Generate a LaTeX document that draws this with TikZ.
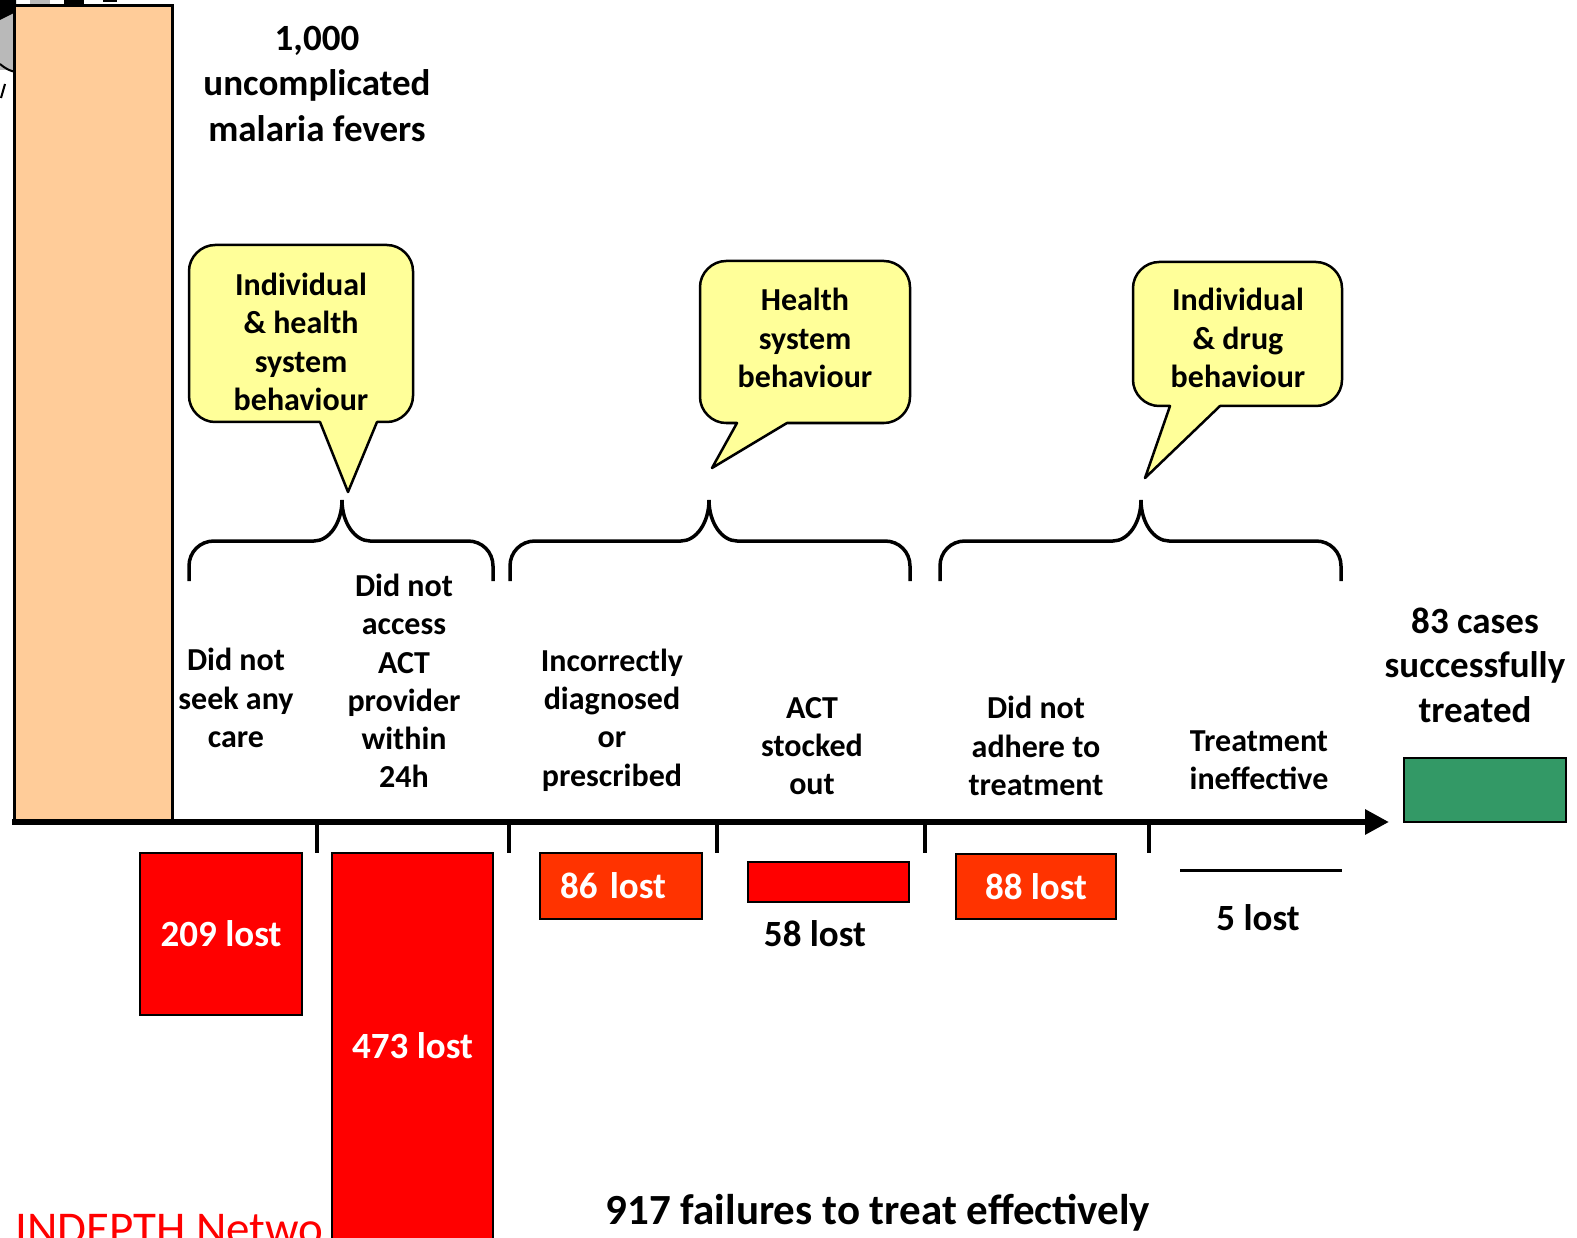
\documentclass[tikz,border=0pt]{standalone}
\usepackage{fontspec}
\setmainfont{Carlito}
\usetikzlibrary{arrows.meta}
\definecolor{fever}{HTML}{FFCC99}
\definecolor{note}{HTML}{FFFF99}
\definecolor{loss}{HTML}{FF0000}
\definecolor{lossb}{HTML}{FF3300}
\definecolor{cured}{HTML}{339966}

\begin{document}
\begin{tikzpicture}[
  x=1pt, y=-1pt,
  lbl/.style={font=\fontsize{32}{38.3}\selectfont\bfseries, align=center, inner sep=0pt},
  big/.style={font=\fontsize{37}{45}\selectfont\bfseries, align=center, inner sep=0pt},
  lossbox/.style={draw=black, line width=2pt, fill=#1, text=white, inner sep=0pt,
                  font=\fontsize{37}{44}\selectfont\bfseries},
  callbox/.style={draw=black, line width=2.5pt, fill=note},
  curly/.style={draw=black, line width=3.5pt},
  axis/.style={line width=6pt, -{Triangle[length=24pt, width=24pt]}},
  tick/.style={line width=4pt},
]
\useasboundingbox (0,0) rectangle (1577,1238);

% curly brace: left x, tip x, right x
\def\curlybr#1#2#3{\draw[curly] (#1,581) -- (#1,566) .. controls (#1,552) and (#1+11,541) .. (#1+25,541)
  -- (#2-28,541) .. controls (#2-13,541) and (#2,523) .. (#2,500)
  .. controls (#2,523) and (#2+13,541) .. (#2+28,541)
  -- (#3-25,541) .. controls (#3-11,541) and (#3,552) .. (#3,566) -- (#3,581);}
% speech bubble: x1, y1, x2, y2, pointer base left, pointer base right, tip x, tip y
\def\bubble#1#2#3#4#5#6#7#8{\draw[callbox, line join=round] ({(#1+#3)/2},#2)
  -- (#3-26,#2) .. controls (#3-12,#2) and (#3,#2+12) .. (#3,#2+26)
  -- (#3,#4-26) .. controls (#3,#4-12) and (#3-12,#4) .. (#3-26,#4)
  -- (#6,#4) -- (#7,#8) -- (#5,#4)
  -- (#1+26,#4) .. controls (#1+12,#4) and (#1,#4-12) .. (#1,#4-26)
  -- (#1,#2+26) .. controls (#1,#2+12) and (#1+12,#2) .. (#1+26,#2) -- cycle;}

% ---------- picture fragment, top left ----------
\fill[gray!55] (0,0) rectangle (16,70);
\draw[line width=2pt] (0,64) .. controls (6,69) and (10,71) .. (16,72);
\fill[black] (0,0) -- (16,0) -- (16,12) -- (0,20) -- cycle;
\fill[gray!55] (30,0) rectangle (50,6);
\fill[black] (64,0) rectangle (84,6);
\fill[black] (103,0) rectangle (117,2);
\draw[line width=2pt] (1,98) -- (5,84);

% ---------- 1,000 fevers ----------
\node[draw=black, line width=3pt, fill=fever, minimum width=158pt, minimum height=814pt,
      inner sep=0pt] (fevers) at (93,413) {};
\node[big, font=\fontsize{37}{45.5}\selectfont\bfseries] (title) at (317,84)
  {1,000\\uncomplicated\\malaria fevers};

% ---------- Speech bubbles ----------
\bubble{189}{245}{413}{422}{320}{377}{348}{492}
\bubble{700}{261}{910}{423}{737}{787}{712}{468}
\bubble{1133}{262}{1342}{406}{1170}{1220}{1145}{478}
\node[lbl] (why1) at (301,342) {Individual\\\& health\\system\\behaviour};
\node[lbl] (why2) at (805,338) {Health\\system\\behaviour};
\node[lbl] (why3) at (1238,338) {Individual\\\& drug\\behaviour};

% ---------- Braces ----------
\curlybr{189}{342}{493}
\curlybr{510}{709}{910}
\curlybr{940}{1141}{1341}

% ---------- Steps ----------
\node[lbl] (care) at (236,698) {Did not\\seek any\\care};
\node[lbl] (access) at (404,681) {Did not\\access\\ACT\\provider\\within\\24h};
\node[lbl] (diag) at (612,720) {Incorrectly\\diagnosed\\or\\prescribed};
\node[lbl] (stock) at (812,746) {ACT\\stocked\\out};
\node[lbl] (adhere) at (1036,746) {Did not\\adhere to\\treatment};
\node[lbl] (ineff) at (1259,760) {Treatment\\ineffective};
\node[big, font=\fontsize{37}{44.5}\selectfont\bfseries] (success) at (1475,665)
  {83 cases\\successfully\\treated};

% ---------- Axis ----------
\node[draw=black, line width=2pt, fill=cured, minimum width=162pt, minimum height=64pt,
      inner sep=0pt] (cured) at (1485,790) {};
\coordinate (axL) at (12,822);
\coordinate (axR) at (1389,822);
\draw[axis] (axL) -- (axR);
\draw[tick] (317,822) -- (317,853);
\draw[tick] (509,822) -- (509,853);
\draw[tick] (717,822) -- (717,853);
\draw[tick] (925,822) -- (925,853);
\draw[tick] (1149,822) -- (1149,853);

% ---------- Losses ----------
\node[text=red, font=\fontsize{47}{56}\selectfont, anchor=base west, inner sep=0pt]
  (indepth) at (15,1244) {INDEPTH Netwo};
\node[lossbox=loss, minimum width=162pt, minimum height=162pt] (b209) at (221,934) {209 lost};
\node[lossbox=loss, minimum width=161pt, minimum height=386pt] (b473) at (412.5,1046) {473 lost};
\node[lossbox=lossb, minimum width=162pt, minimum height=66pt, text width=122pt,
      inner xsep=20pt, align=left] (b86) at (621,886) {86 lost};
\node[lossbox=loss, minimum width=161pt, minimum height=40pt] (b58) at (828.5,882) {};
\node[big] (t58) at (815,934) {58 lost};
\node[lossbox=lossb, minimum width=160pt, minimum height=65pt] (b88) at (1036,886.5) {88 lost};
\coordinate (fiveL) at (1180,870);
\coordinate (fiveR) at (1342,870);
\draw[line width=3pt] (fiveL) -- (fiveR);
\node[big] (t5) at (1258,918) {5 lost};

\node[lbl, font=\fontsize{43}{50}\selectfont\bfseries] (total) at (878,1213)
  {917 failures to treat effectively};
\end{tikzpicture}
\end{document}
